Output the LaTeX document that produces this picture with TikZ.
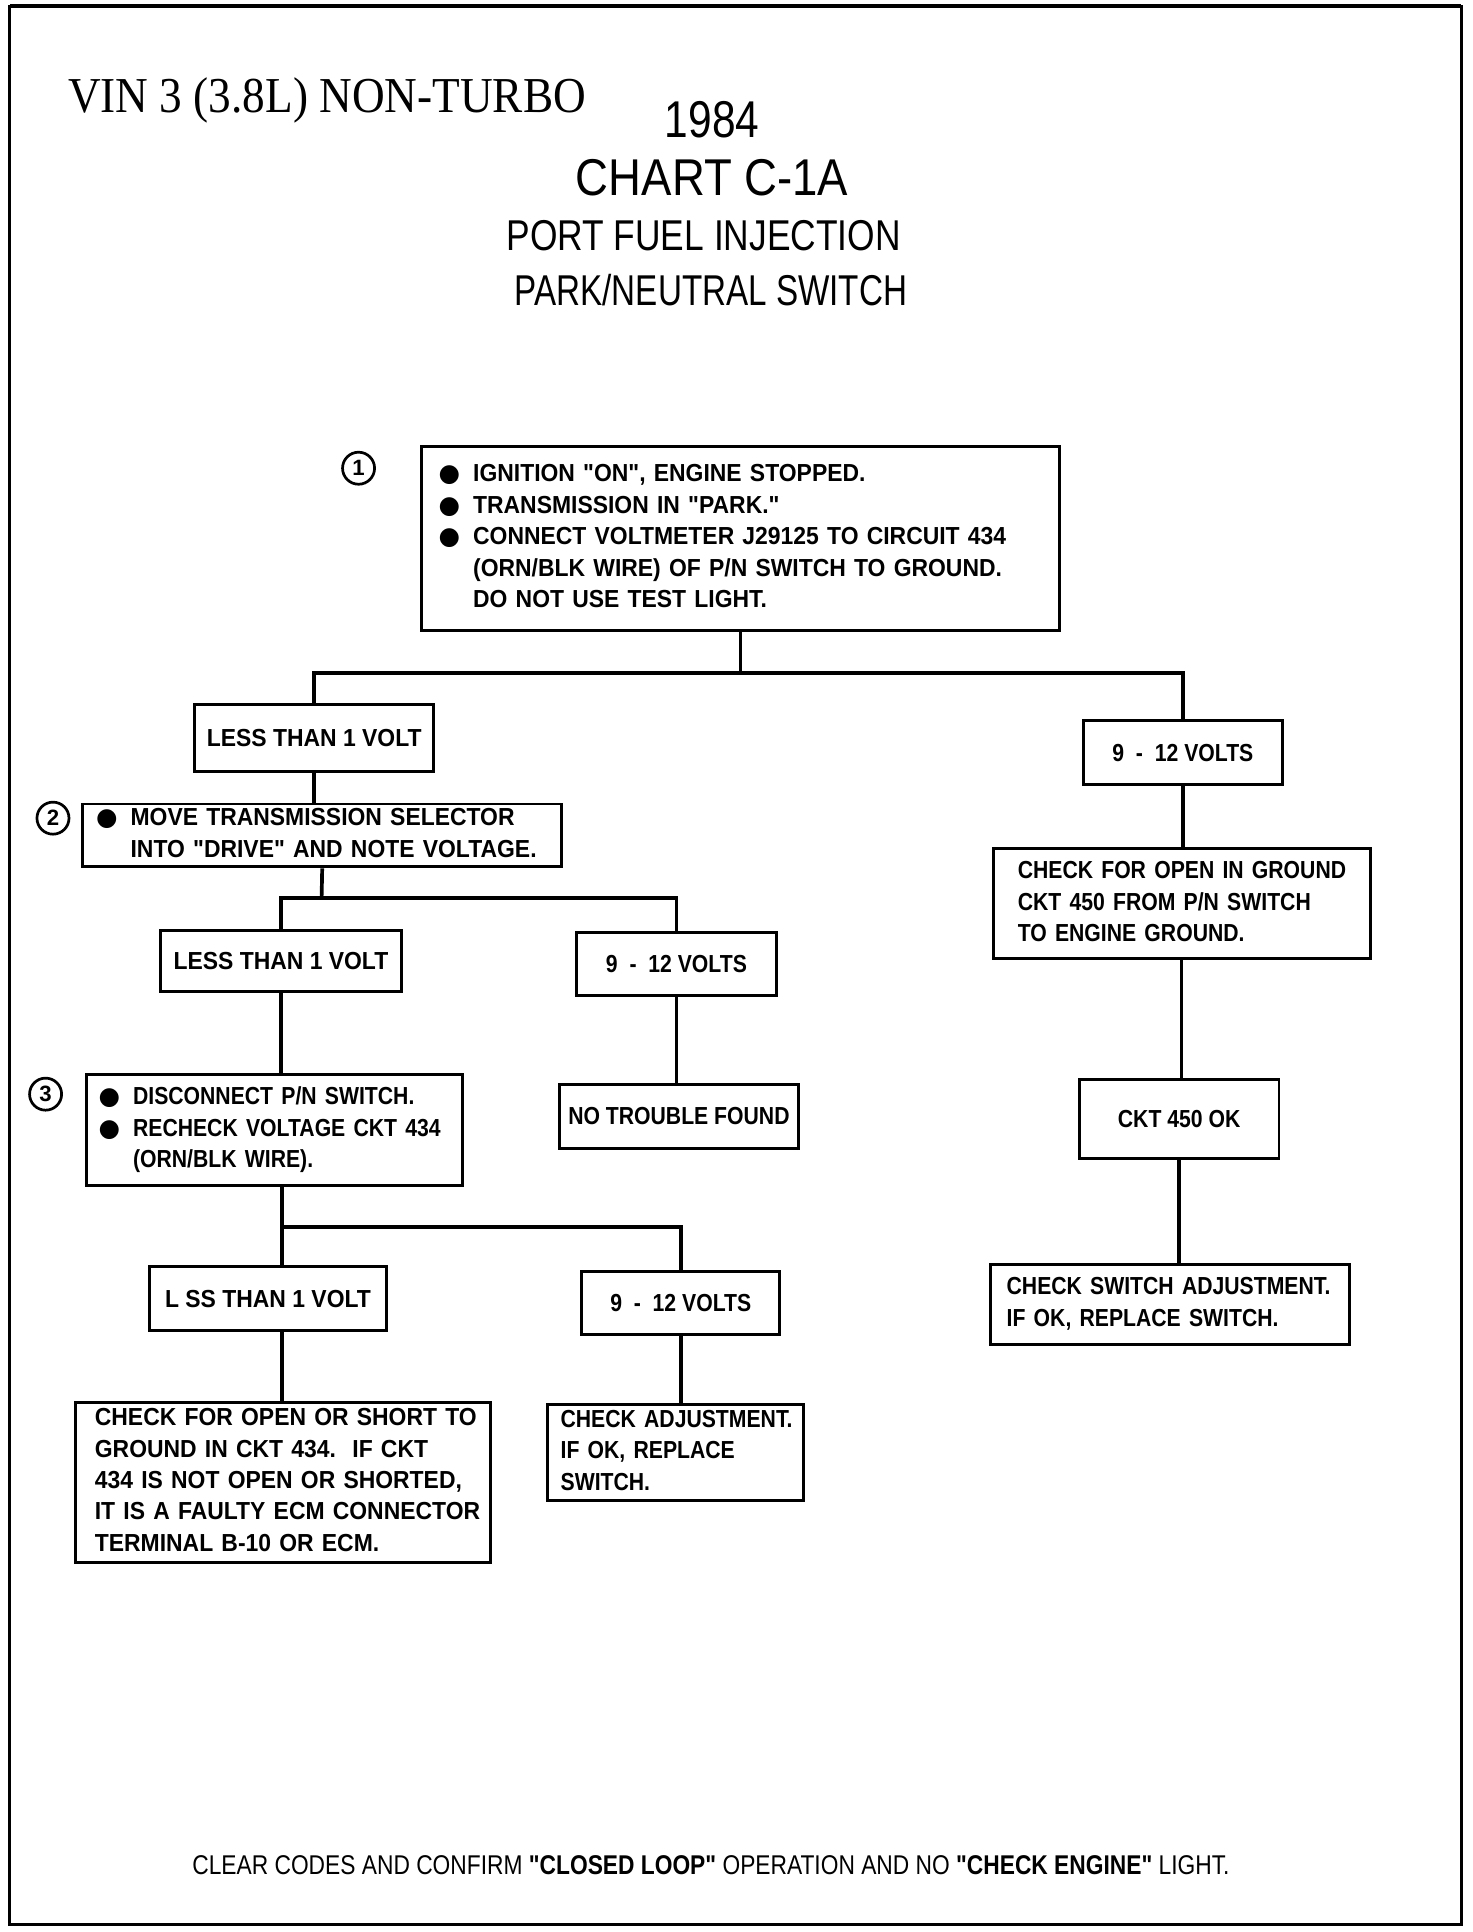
\documentclass[tikz,border=0pt]{standalone}
\usepackage{fontspec}
\setmainfont{Liberation Sans}
\newfontfamily\plotfont[FakeStretch=0.86]{Liberation Sans}
\newfontfamily\plotwide[FakeStretch=0.93]{Liberation Sans}
\newfontfamily\titlefont[FakeStretch=0.82]{Liberation Sans}
\newfontfamily\chartfont[FakeStretch=0.88]{Liberation Sans}
\newfontfamily\parkfont[FakeStretch=0.77]{Liberation Sans}
\newfontfamily\notefont[FakeStretch=0.84]{Liberation Sans}
\newfontfamily\vinfont[FakeStretch=0.9]{Liberation Serif}
\newfontfamily\symfont{DejaVu Sans}
\newcommand\bul{\makebox[14pt][l]{\symfont ●}}
\newcommand\ind{\hspace*{14pt}}
\newcommand\lines[1]{\begin{tabular}{@{}l@{}}#1\end{tabular}}
\tikzset{
  box/.style={draw, line width=1.2pt, inner ysep=0pt, font=\plotfont\bfseries\fontsize{10}{12.75}\selectfont},
  wide/.style={font=\plotwide\bfseries\fontsize{10}{12.75}\selectfont},
  lbox/.style={box, align=left},
  cbox/.style={box, align=center, inner xsep=0pt},
  conn/.style={line width=1.5pt},
  num/.style={draw, circle, line width=1.1pt, minimum size=13pt, inner sep=0pt, font=\bfseries\fontsize{9}{9}\selectfont},
  ttl/.style={inner sep=0pt, anchor=base}
}
\begin{document}
\begin{tikzpicture}[x=0.5pt,y=-0.5pt]
\useasboundingbox (0,0) rectangle (1195,1568);
\draw[line width=1.2pt] (8,5) rectangle (1186,1562);
\draw[line width=1.6pt] (8,5) -- (1186,5);

% titles
\node[ttl, anchor=base west, font=\vinfont\fontsize{20.4}{22}\selectfont] (vin) at (55,91) {VIN 3 (3.8L) NON-TURBO};
\node[ttl, font=\titlefont\fontsize{21}{23}\selectfont] (yr) at (578,112) {1984};
\node[ttl, font=\chartfont\fontsize{21}{23}\selectfont] (chart) at (578,159) {CHART C-1A};
\node[ttl, font=\titlefont\fontsize{17.5}{19}\selectfont] (pfi) at (571,203) {PORT FUEL INJECTION};
\node[ttl, font=\parkfont\fontsize{17.5}{19}\selectfont] (pns) at (577,248) {PARK/NEUTRAL SWITCH};

% step 1
\node[lbox, wide, minimum width=259pt, minimum height=75pt, inner xsep=7pt, text width=245pt] (b1) at (601,437)
 {\lines{\bul IGNITION "ON", ENGINE STOPPED.\\
  \bul TRANSMISSION IN "PARK."\\
  \bul CONNECT VOLTMETER J29125 TO CIRCUIT 434\\
  \ind (ORN/BLK WIRE) OF P/N SWITCH TO GROUND.\\
  \ind DO NOT USE TEST LIGHT.}};
\node[num] (n1) at (291,380) {1};

\node[cbox, wide, minimum width=97pt, minimum height=27pt] (lt1a) at (255,599) {LESS THAN 1 VOLT};
\node[cbox, minimum width=81pt, minimum height=26pt] (v1) at (960,611) {9 \ - \ 12 VOLTS};

% step 2
\node[lbox, wide, minimum width=194.5pt, minimum height=25pt, inner xsep=5.5pt, text width=183.5pt] (b2) at (261.5,678)
 {\lines{\bul MOVE TRANSMISSION SELECTOR\\
  \ind INTO "DRIVE" AND NOTE VOLTAGE.}};
\node[num] (n2) at (43,664) {2};

\node[cbox, wide, minimum width=98pt, minimum height=25pt] (lt1b) at (228,780) {LESS THAN 1 VOLT};
\node[cbox, minimum width=81pt, minimum height=25.5pt] (v2) at (549,782.5) {9 \ - \ 12 VOLTS};
\node[cbox, minimum width=97pt, minimum height=26pt] (ntf) at (551,906) {NO TROUBLE FOUND};

% step 3
\node[lbox, minimum width=152.5pt, minimum height=45pt, inner xsep=5pt, text width=142.5pt] (b3) at (222.5,917)
 {\lines{\bul DISCONNECT P/N SWITCH.\\
  \bul RECHECK VOLTAGE CKT 434\\
  \ind (ORN/BLK WIRE).}};
\node[num] (n3) at (37,888) {3};

\node[cbox, wide, minimum width=96.5pt, minimum height=26pt] (lt1c) at (217.5,1054) {L SS THAN 1 VOLT};
\node[cbox, minimum width=80.5pt, minimum height=25.5pt] (v3) at (552.5,1057.5) {9 \ - \ 12 VOLTS};

\node[lbox, wide, minimum width=168.5pt, minimum height=65pt, inner xsep=8pt, text width=152.5pt] (b4) at (229.5,1203)
 {\lines{CHECK FOR OPEN OR SHORT TO\\
  GROUND IN CKT 434.\ \ IF CKT\\
  434 IS NOT OPEN OR SHORTED,\\
  IT IS A FAULTY ECM CONNECTOR\\
  TERMINAL B-10 OR ECM.}};
\node[lbox, minimum width=104pt, minimum height=39pt, inner xsep=5.5pt, text width=93pt] (b5) at (548,1179)
 {\lines{CHECK ADJUSTMENT.\\
  IF OK, REPLACE\\
  SWITCH.}};

% right column
\node[lbox, minimum width=153pt, minimum height=44.5pt, inner xsep=10pt, text width=133pt] (b6) at (959,733.5)
 {\lines{CHECK FOR OPEN IN GROUND\\
  CKT 450 FROM P/N SWITCH\\
  TO ENGINE GROUND.}};
\node[cbox, minimum width=81pt, minimum height=32pt] (b7) at (957,908) {CKT 450 OK};
\node[lbox, minimum width=145.5pt, minimum height=32.5pt, inner xsep=6.5pt, text width=132.5pt] (b8) at (949.5,1058.5)
 {\lines{CHECK SWITCH ADJUSTMENT.\\
  IF OK, REPLACE SWITCH.}};

% bottom note
\node[ttl, font=\notefont\fontsize{11}{13}\selectfont] (note) at (577,1521)
 {CLEAR CODES AND CONFIRM {\bfseries "CLOSED LOOP"} OPERATION AND NO {\bfseries "CHECK ENGINE"} LIGHT.};

% connectors
\coordinate (j1) at (601,546);
\coordinate (j2) at (261,729);
\coordinate (j3) at (229,996);
\draw[conn] (b1.south) -- (j1);
\draw[conn] (lt1a.north) |- (j1) -| (v1.north);
\draw[conn] (lt1a.south) -- (lt1a.south |- b2.north);
\draw[conn] (b2.south) -- (j2);
\draw[conn] (lt1b.north) |- (j2) -| (v2.north);
\draw[conn] (lt1b.south) -- (lt1b.south |- b3.north);
\draw[conn] (v2.south) -- (v2.south |- ntf.north);
\draw[conn] (b3.south -| j3) -- (j3) -| (v3.north);
\draw[conn] (j3) -- (j3 |- lt1c.north);
\draw[conn] (lt1c.south -| j3) -- (b4.north -| j3);
\draw[conn] (v3.south) -- (v3.south |- b5.north);
\draw[conn] (v1.south) -- (v1.south |- b6.north);
\draw[conn] (b6.south) -- (b6.south |- b7.north);
\draw[conn] (b7.south) -- (b7.south |- b8.north);
\end{tikzpicture}
\end{document}
